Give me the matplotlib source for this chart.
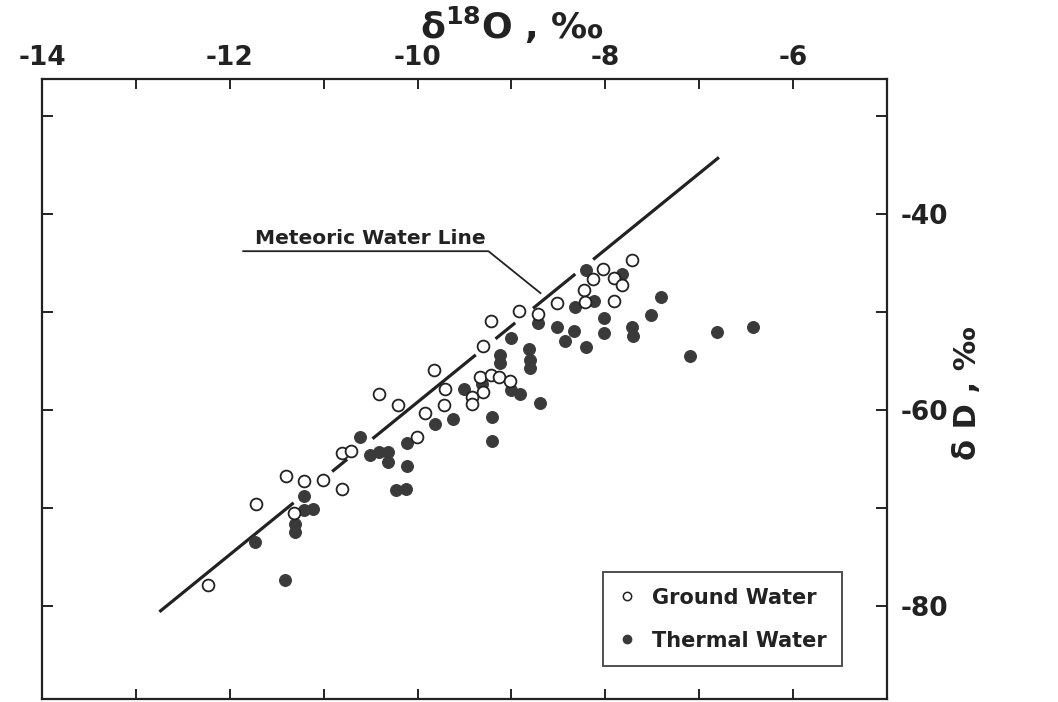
import numpy as np
import matplotlib
matplotlib.use("Agg")
import matplotlib.pyplot as plt
from matplotlib.lines import Line2D

# ---------------- data ----------------
ground_o18 = [-12.23, -11.72, -11.40, -11.21, -11.01, -10.80, -10.81, -10.71, -11.32,
              -10.01, -10.41, -10.21, -9.92, -9.82, -9.71, -9.72, -9.42, -9.42,
              -9.33, -9.30, -9.22, -9.13, -9.02, -9.30, -9.22, -8.92, -8.72,
              -8.51, -8.23, -8.22, -8.13, -8.02, -7.91, -7.82, -7.91, -7.72]
ground_dD = [-77.9, -69.6, -66.7, -67.2, -67.1, -68.1, -64.4, -64.2, -70.5,
             -62.8, -58.4, -59.5, -60.3, -55.9, -57.9, -59.5, -58.7, -59.4,
             -56.6, -58.2, -56.4, -56.6, -57.0, -53.5, -50.9, -49.9, -50.2,
             -49.1, -47.7, -49.0, -46.6, -45.6, -46.5, -47.2, -48.9, -44.7]

thermal_o18 = [-11.73, -11.41, -11.21, -11.21, -11.11, -11.31, -11.31, -10.61, -10.51,
               -10.41, -10.31, -10.32, -10.11, -10.11, -10.23, -10.12, -9.81, -9.62,
               -9.51, -9.31, -9.21, -9.21, -9.01, -8.91, -9.12, -9.12, -9.01,
               -8.81, -8.80, -8.80, -8.72, -8.70, -8.51, -8.43, -8.33, -8.21,
               -8.32, -8.12, -8.21, -7.82, -8.01, -8.01, -7.72, -7.70, -7.51,
               -7.41, -7.10, -6.81, -6.43]
thermal_dD = [-73.5, -77.4, -68.8, -70.2, -70.1, -71.6, -72.5, -62.8, -64.6,
              -64.3, -64.3, -65.3, -63.4, -65.7, -68.2, -68.1, -61.4, -60.9,
              -57.8, -57.3, -60.7, -63.2, -58.0, -58.4, -54.4, -55.2, -52.6,
              -53.8, -54.9, -55.7, -51.1, -59.3, -51.5, -52.9, -51.9, -53.6,
              -49.5, -48.9, -45.7, -46.1, -50.6, -52.1, -51.5, -52.4, -50.3,
              -48.5, -54.5, -52.0, -51.5]

# Meteoric water line: end points and the drawn (broken) pieces
mwl_o18 = [-12.75, -6.79]
mwl_dD = [-80.6, -34.2]
mwl_pieces = [(-12.75, -11.32), (-10.91, -10.75), (-10.48, -9.38),
              (-9.17, -8.96), (-8.77, -8.32), (-8.13, -6.79)]

x_ticks = [-14, -13, -12, -11, -10, -9, -8, -7, -6]
x_labels = ["-14", "", "-12", "", "-10", "", "-8", "", "-6"]
y_ticks = [-30, -40, -50, -60, -70, -80]
y_labels = ["", "-40", "", "-60", "", "-80"]

ink = "#222222"
dot = "#3a3a3a"

# ---------------- figure ----------------
fig = plt.figure(figsize=(10.58, 7.02), dpi=100)
W, H = 1058, 702
ax = fig.add_axes([42 / W, 1 - 699 / H, (887 - 42) / W, (699 - 79) / H])
ax.set_xlim(-14, -5)
ax.set_ylim(-89.5, -26.2)

for s in ax.spines.values():
    s.set_linewidth(1.6)
    s.set_color(ink)

ax.set_xticks(x_ticks)
ax.set_xticklabels(x_labels)
ax.set_yticks(y_ticks)
ax.set_yticklabels(y_labels)
ax.tick_params(axis="x", which="both", direction="in", top=True, bottom=True,
               labeltop=True, labelbottom=False, length=7, width=1.4,
               color=ink, pad=6)
ax.tick_params(axis="y", which="both", direction="in", left=True, right=True,
               labelleft=False, labelright=True, length=8, width=1.4,
               color=ink, pad=10)
for lab in ax.get_xticklabels() + ax.get_yticklabels():
    lab.set_fontsize(19)
    lab.set_fontweight("bold")
    lab.set_color(ink)

# meteoric water line (broken)
for a, b in mwl_pieces:
    xs = np.array([a, b])
    ys = np.interp(xs, mwl_o18, mwl_dD)
    ax.plot(xs, ys, color=ink, lw=2.3, solid_capstyle="butt", zorder=2)

# points
ax.plot(thermal_o18, thermal_dD, "o", ms=8.5, mfc=dot, mec=dot, mew=0.8, zorder=3)
ax.plot(ground_o18, ground_dD, "o", ms=8.5, mfc="white", mec=ink, mew=1.3, zorder=4)

# label of the meteoric water line
ax.text(-10.50, -43.0, "Meteoric Water Line", ha="center", va="baseline",
        fontsize=14.5, fontweight="bold", color=ink)
ax.plot([-11.857, -9.245, -8.691], [-43.78, -43.78, -48.06], color=ink, lw=1.3,
        zorder=2)

# axis titles
fig.text(512 / W, 1 - 25 / H, "δ$^{\\mathbf{18}}$O , ‰", ha="center", va="center",
         fontsize=26, fontweight="bold", color=ink)
fig.text(968 / W, 1 - 393 / H, "δ D , ‰", ha="center", va="center", rotation=90,
         fontsize=22, fontweight="bold", color=ink)

# legend
handles = [Line2D([], [], ls="none", marker="o", ms=6, mfc="white", mec=ink, mew=1.1),
           Line2D([], [], ls="none", marker="o", ms=6, mfc=dot, mec=dot)]
leg = ax.legend(handles, ["Ground Water", "Thermal Water"],
                loc="upper left", bbox_to_anchor=(603 / W, 1 - 572 / H),
                bbox_transform=fig.transFigure, borderaxespad=0,
                prop={"size": 15, "weight": "bold"}, frameon=True, fancybox=False,
                handlelength=0.8, handletextpad=0.8, labelspacing=1.1,
                borderpad=0.75)
leg.get_frame().set_edgecolor(ink)
leg.get_frame().set_linewidth(1.4)
for t in leg.get_texts():
    t.set_color(ink)

fig.savefig("out.png", dpi=100)
